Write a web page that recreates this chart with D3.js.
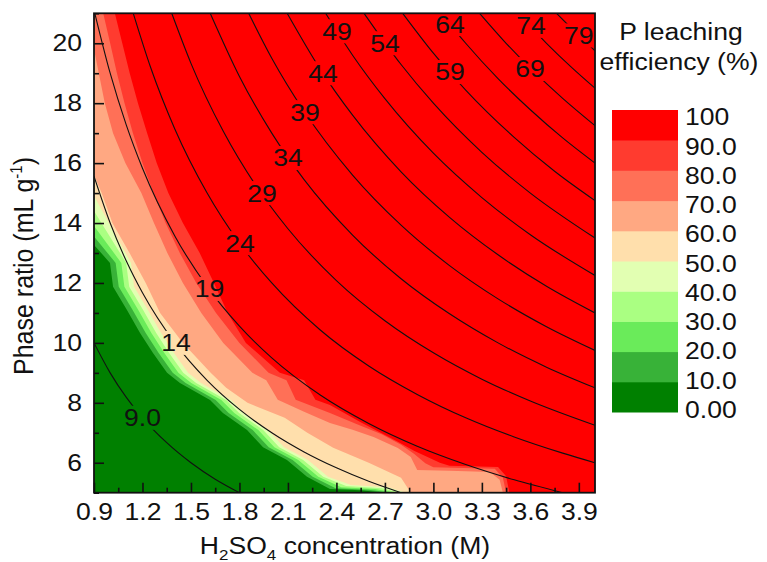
<!DOCTYPE html>
<html>
<head>
<meta charset="utf-8">
<title>P leaching efficiency</title>
<script src="https://cdn.jsdelivr.net/npm/d3@7"></script>
<style>
    body { margin: 0; background: #fff; }
    svg { display: block; }
    text { font-family: Arial, "Liberation Sans", sans-serif; fill: #111; }
</style>
</head>
<body>
<svg id="chart"></svg>
<script>
// axis ticks
const xTicks = [0.9, 1.2, 1.5, 1.8, 2.1, 2.4, 2.7, 3.0, 3.3, 3.6, 3.9];
const xMinor = [1.05, 1.35, 1.65, 1.95, 2.25, 2.55, 2.85, 3.15, 3.45, 3.75];
const yTicks = [6, 8, 10, 12, 14, 16, 18, 20];
const yMinor = [5, 7, 9, 11, 13, 15, 17, 19, 21];

// colour scale (0-10 ... 90-100)
const levelLabels = ["0.00", "10.0", "20.0", "30.0", "40.0", "50.0", "60.0", "70.0", "80.0", "90.0", "100"];
const bandColors = ["#008000", "#38b238", "#6aeb5a", "#aaff82", "#e2ffb2",
                    "#ffdfac", "#ffa882", "#ff7057", "#ff3b2f", "#ff0000"];

// edges of the filled levels [M, mL/g]
const edge10 = [[0.9,13.27],[0.999,12.67],[1.018,11.87],[1.104,11.1],[1.185,10.33],[1.265,9.66],[1.352,9.0],[1.432,8.66],[1.618,8.09],[1.698,7.66],[1.847,7.09],[1.946,6.52],[2.094,6.09],[2.218,5.53],[2.36,5.12],[2.55,5.08],[2.7,5.0]];
const edge20 = [[0.9,13.55],[1.034,12.67],[1.053,11.87],[1.139,11.1],[1.22,10.33],[1.3,9.66],[1.387,9.0],[1.467,8.66],[1.653,8.09],[1.733,7.66],[1.882,7.09],[1.981,6.52],[2.129,6.09],[2.253,5.53],[2.395,5.15],[2.6,5.1],[2.74,5.0]];
const edge30 = [[0.9,13.9],[1.069,12.67],[1.088,11.87],[1.174,11.1],[1.255,10.33],[1.335,9.66],[1.422,9.0],[1.502,8.66],[1.688,8.09],[1.768,7.66],[1.917,7.09],[2.016,6.52],[2.164,6.09],[2.288,5.53],[2.43,5.18],[2.64,5.12],[2.77,5.0]];
const edge40 = [[0.9,14.4],[1.099,12.67],[1.118,11.87],[1.204,11.1],[1.285,10.33],[1.365,9.66],[1.452,9.0],[1.532,8.66],[1.718,8.09],[1.798,7.66],[1.947,7.09],[2.046,6.52],[2.194,6.09],[2.318,5.53],[2.46,5.22],[2.68,5.15],[2.8,5.0]];
const edge50 = [[0.9,14.9],[1.129,12.67],[1.148,11.87],[1.234,11.1],[1.315,10.33],[1.395,9.66],[1.482,9.0],[1.562,8.66],[1.748,8.09],[1.828,7.66],[1.977,7.09],[2.076,6.52],[2.224,6.09],[2.348,5.53],[2.49,5.26],[2.72,5.18],[2.83,5.0]];
const edge60 = [[0.9,15.6],[0.947,15],[1.014,14],[1.12,13],[1.22,12],[1.309,11],[1.45,10],[1.622,9],[1.718,8.5],[1.85,8],[2.08,7.5],[2.22,7.0],[2.38,6.5],[2.6,6.0],[2.8,5.5],[2.86,5]];
const edge70 = [[0.9,19.8],[0.967,18],[1.018,17],[1.094,16],[1.193,15],[1.271,14],[1.354,13],[1.45,12],[1.564,11],[1.70,10],[1.88,9],[1.966,8.75],[2.037,8.1],[2.2,7.7],[2.36,7.33],[2.5,7.1],[2.63,6.86],[2.78,6.49],[2.86,6.19],[2.9,5.76],[3.1,5.73],[3.35,5.69],[3.41,5.43],[3.43,5]];
const edge80 = [[0.957,21],[1.0,20],[1.042,19],[1.089,18],[1.141,17],[1.2,16],[1.267,15],[1.343,14],[1.431,13],[1.533,12],[1.655,11],[1.8,10],[1.98,9],[2.091,8.75],[2.148,8.1],[2.36,7.66],[2.52,7.3],[2.68,6.95],[2.8,6.6],[2.88,6.3],[2.95,5.98],[3.0,5.85],[3.38,5.8],[3.43,5.5],[3.45,5]];
const edge90 = [[1.029,21],[1.075,20],[1.121,19],[1.172,18],[1.229,17],[1.288,16],[1.36,15],[1.45,14],[1.554,13],[1.642,12],[1.727,11],[1.84,10],[2.05,9],[2.2,8.75],[2.27,8.1],[2.36,7.93],[2.55,7.35],[2.78,6.7],[2.88,6.4],[3.04,6.0],[3.1,5.9],[3.4,5.86],[3.45,5.55],[3.47,5]];

// black iso-lines (acid / solid, mmol g-1)
const isoLevels = [9, 14, 19, 24, 29, 34, 39, 44, 49, 54, 59, 64, 69, 74, 79];
const line09 = [[0.9,10.0],[1.0,9.0],[1.1,8.18],[1.2,7.5],[1.35,6.67],[1.5,6.0],[1.65,5.45],[1.8,5.0]];
const line14 = [[0.9,15.56],[1.0,14.0],[1.1,12.73],[1.2,11.67],[1.4,10.0],[1.6,8.75],[1.8,7.78],[2.0,7.0],[2.2,6.36],[2.4,5.83],[2.6,5.38],[2.8,5.0]];
const line19 = [[0.905,21.0],[1.0,19.0],[1.1,17.27],[1.2,15.83],[1.4,13.57],[1.6,11.88],[1.8,10.56],[2.0,9.5],[2.3,8.26],[2.6,7.31],[2.9,6.55],[3.2,5.94],[3.5,5.43],[3.8,5.0]];
const line24 = [[1.143,21.0],[1.25,19.2],[1.4,17.14],[1.6,15.0],[1.8,13.33],[2.0,12.0],[2.3,10.43],[2.6,9.23],[2.9,8.28],[3.2,7.5],[3.5,6.86],[3.8,6.32],[4.0,6.0]];
const line29 = [[1.381,21.0],[1.5,19.33],[1.7,17.06],[1.9,15.26],[2.1,13.81],[2.4,12.08],[2.7,10.74],[3.0,9.67],[3.3,8.79],[3.6,8.06],[4.0,7.25]];
const line34 = [[1.619,21.0],[1.8,18.89],[2.0,17.0],[2.2,15.45],[2.5,13.6],[2.8,12.14],[3.1,10.97],[3.4,10.0],[3.7,9.19],[4.0,8.5]];
const line39 = [[1.857,21.0],[2.0,19.5],[2.2,17.73],[2.5,15.6],[2.8,13.93],[3.1,12.58],[3.4,11.47],[3.7,10.54],[4.0,9.75]];
const line44 = [[2.095,21.0],[2.3,19.13],[2.5,17.6],[2.8,15.71],[3.1,14.19],[3.4,12.94],[3.7,11.89],[4.0,11.0]];
const line49 = [[2.333,21.0],[2.5,19.6],[2.7,18.15],[3.0,16.33],[3.3,14.85],[3.6,13.61],[4.0,12.25]];
const line54 = [[2.571,21.0],[2.8,19.29],[3.0,18.0],[3.3,16.36],[3.6,15.0],[4.0,13.5]];
const line59 = [[2.81,21.0],[3.0,19.67],[3.2,18.44],[3.5,16.86],[3.75,15.73],[4.0,14.75]];
const line64 = [[3.048,21.0],[3.2,20.0],[3.4,18.82],[3.6,17.78],[3.8,16.84],[4.0,16.0]];
const line69 = [[3.286,21.0],[3.45,20.0],[3.6,19.17],[3.8,18.16],[4.0,17.25]];
const line74 = [[3.524,21.0],[3.7,20.0],[3.85,19.22],[4.0,18.5]];
const line79 = [[3.762,21.0],[3.9,20.26],[4.0,19.75]];
const isoLabelX = [1.2, 1.407, 1.615, 1.803, 1.94, 2.10, 2.206, 2.317, 2.404, 2.70, 3.103, 3.103, 3.598, 3.604, 3.9];
const isoLabelY = [7.5, 10.0, 11.8, 13.33, 15.0, 16.17, 17.7, 19.0, 20.4, 20.0, 19.04, 20.64, 19.14, 20.58, 20.26];

//
const W = 767, H = 562;
const SX = 1.13;   // the picture is a bit wider than tall, text too
const FS = 23.5;

let svg = d3.select("#chart").attr("width", W).attr("height", H);
let defs = svg.append("defs");

let x = d3.scaleLinear().domain([0.9, 4.0]).range([94, 595]);
let y = d3.scaleLinear().domain([5, 21]).range([492.7, 13.3]);
let [x0, x1] = x.domain(), [y0, y1] = y.domain();

defs.append("clipPath").attr("id", "plotClip")
    .append("rect")
    .attr("x", x(x0)).attr("y", y(y1))
    .attr("width", x(x1) - x(x0)).attr("height", y(y0) - y(y1));

function stretch(sel, px, py) {
    return sel.attr("transform", `translate(${px},${py}) scale(${SX},1)`);
}

// filled levels
let edges = [edge10, edge20, edge30, edge40, edge50, edge60, edge70, edge80, edge90];
let poly = d3.line().x(d => x(d[0])).y(d => y(d[1]));

let gBands = svg.append("g").attr("clip-path", "url(#plotClip)");
gBands.append("rect")
    .attr("x", x(x0)).attr("y", y(y1))
    .attr("width", x(x1) - x(x0)).attr("height", y(y0) - y(y1))
    .attr("fill", bandColors[0]);

gBands.selectAll(".band")
    .data(edges)
    .enter()
    .append("path")
    .attr("class", "band")
    .attr("d", e => poly(e.concat([[x1, y0], [x1, y1], [e[0][0], y1]])) + "Z")
    .attr("fill", (e, i) => bandColors[i + 1]);

// iso lines, broken where the labels sit
let isoLines = [line09, line14, line19, line24, line29, line34, line39, line44, line49, line54, line59, line64, line69, line74, line79];

let mask = defs.append("mask").attr("id", "lblMask")
    .attr("maskUnits", "userSpaceOnUse")
    .attr("x", 0).attr("y", 0).attr("width", W).attr("height", H);
mask.append("rect").attr("width", W).attr("height", H).attr("fill", "white");

let gIso = svg.append("g").attr("clip-path", "url(#plotClip)")
    .append("g").attr("mask", "url(#lblMask)");

let gLbl = svg.append("g");
isoLevels.forEach((lv, i) => {
    let t = gLbl.append("text")
        .attr("text-anchor", "middle")
        .attr("dy", "0.36em")
        .style("font-size", "23.5px")
        .text(lv < 10 ? lv.toFixed(1) : lv);
    stretch(t, x(isoLabelX[i]), y(isoLabelY[i]));
    let w = t.node().getComputedTextLength() * SX + 6;
    mask.append("rect")
        .attr("x", x(isoLabelX[i]) - w / 2).attr("y", y(isoLabelY[i]) - 12)
        .attr("width", w).attr("height", 24)
        .attr("fill", "black");
});

let curve = d3.line().x(d => x(d[0])).y(d => y(d[1])).curve(d3.curveMonotoneX);
gIso.selectAll("path")
    .data(isoLines)
    .enter()
    .append("path")
    .attr("d", curve)
    .attr("fill", "none")
    .attr("stroke", "#111")
    .attr("stroke-width", 1.1);

// axes, ticks pointing in
let gx = svg.append("g").attr("transform", `translate(0,${y(y0)})`);
gx.call(d3.axisBottom(x).tickValues(xTicks).tickSize(-10).tickPadding(13).tickFormat(d3.format(".1f")));
gx.append("g").call(d3.axisBottom(x).tickValues(xMinor).tickSize(-5).tickFormat(""));
gx.selectAll(".domain").remove();
gx.selectAll("text").style("font-size", FS + "px").attr("fill", "#111")
    .attr("transform", `scale(${SX},1)`).attr("dy", "0.6em");

let gy = svg.append("g").attr("transform", `translate(${x(x0)},0)`);
gy.call(d3.axisLeft(y).tickValues(yTicks).tickSize(-10).tickPadding(12 / SX).tickFormat(d3.format("d")));
gy.append("g").call(d3.axisLeft(y).tickValues(yMinor).tickSize(-5).tickFormat(""));
gy.selectAll(".domain").remove();
gy.selectAll("text").style("font-size", FS + "px").attr("fill", "#111")
    .attr("transform", `scale(${SX},1)`);

svg.selectAll(".tick line").attr("stroke", "#111").attr("stroke-width", 1.6);

svg.append("rect")
    .attr("x", x(x0)).attr("y", y(y1))
    .attr("width", x(x1) - x(x0)).attr("height", y(y0) - y(y1))
    .attr("fill", "none").attr("stroke", "#111").attr("stroke-width", 1.8);

// axis titles
let xt = svg.append("text").attr("text-anchor", "middle").style("font-size", FS + "px");
xt.append("tspan").text("H");
xt.append("tspan").text("2").style("font-size", "15px").attr("dy", 6);
xt.append("tspan").text("SO").attr("dy", -6);
xt.append("tspan").text("4").style("font-size", "15px").attr("dy", 6);
xt.append("tspan").text(" concentration (M)").attr("dy", -6);
stretch(xt, 345, 554);

let yt = svg.append("text").attr("text-anchor", "middle").style("font-size", "25px")
    .attr("transform", `translate(33,266) scale(${SX},1) rotate(-90)`);
yt.append("tspan").text("Phase ratio (mL g");
yt.append("tspan").text("-1").style("font-size", "15px").attr("dy", -10);
yt.append("tspan").text(")").attr("dy", 10);

// colour legend
let lg = svg.append("g");
stretch(lg.append("text").attr("text-anchor", "middle").style("font-size", FS + "px").text("P leaching"), 681, 40);
stretch(lg.append("text").attr("text-anchor", "middle").style("font-size", FS + "px").text("efficiency (%)"), 679, 70);

let ls = d3.scaleLinear().domain([100, 0]).range([110, 412]);
let lt = d3.scaleLinear().domain([100, 0]).range([117, 409.5]);
lg.selectAll(".sw")
    .data(bandColors)
    .enter()
    .append("rect")
    .attr("class", "sw")
    .attr("x", 612).attr("width", 66)
    .attr("y", (c, i) => ls((i + 1) * 10))
    .attr("height", (c, i) => ls(i * 10) - ls((i + 1) * 10) + 0.5)
    .attr("fill", c => c);

levelLabels.forEach((s, i) => {
    stretch(lg.append("text").attr("dy", "0.36em").style("font-size", FS + "px").text(s), 685, lt(i * 10));
});
</script>
</body>
</html>
